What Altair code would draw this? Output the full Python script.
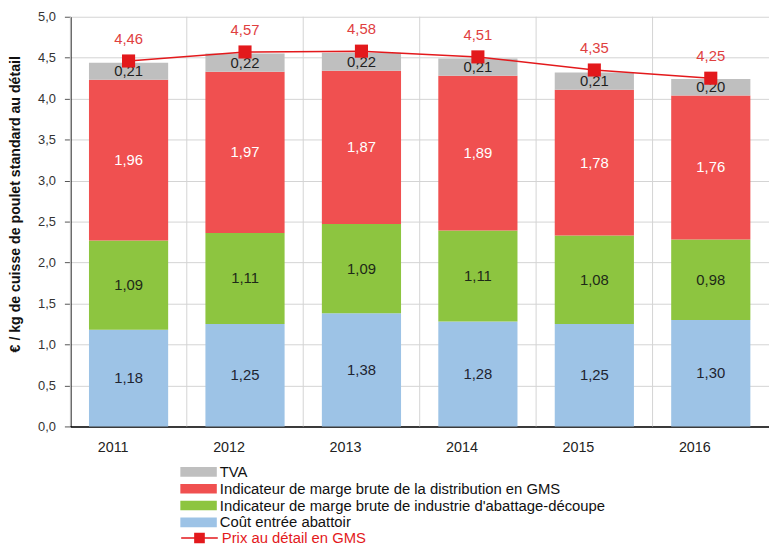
import altair as alt
import pandas as pd

years = ["2011", "2012", "2013", "2014", "2015", "2016"]
cout = [1.18, 1.25, 1.38, 1.28, 1.25, 1.30]
industrie = [1.09, 1.11, 1.09, 1.11, 1.08, 0.98]
distribution = [1.96, 1.97, 1.87, 1.89, 1.78, 1.76]
tva = [0.21, 0.22, 0.22, 0.21, 0.21, 0.20]
prix = [4.46, 4.57, 4.58, 4.51, 4.35, 4.25]

series = [
    "Coût entrée abattoir",
    "Indicateur de marge brute de industrie d'abattage-découpe",
    "Indicateur de marge brute de la distribution en GMS",
    "TVA",
]
colors = ["#9DC3E6", "#8DC540", "#F05050", "#BFBFBF"]
text_colors = ["#1e2430", "#1e2a18", "#ffffff", "#1f1f1f"]
legend_order = [series[3], series[2], series[1], series[0]]
price_name = "Prix au détail en GMS"
RED = "#E3191C"
FONT = "Liberation Sans"


def fr(v):
    return f"{v:.2f}".replace(".", ",")


rows = []
for i, yr in enumerate(years):
    for k, vals in enumerate([cout, industrie, distribution, tva]):
        rows.append(dict(year=yr, series=series[k], value=vals[i], order=k,
                         tcolor=text_colors[k], label=fr(vals[i])))
df = pd.DataFrame(rows)

price_df = pd.DataFrame(dict(year=years, prix=prix, name=price_name,
                             label=[fr(v) for v in prix]))
grid_df = pd.DataFrame(dict(year=years))

x_enc = alt.X("year:O", sort=years,
              scale=alt.Scale(paddingInner=0, paddingOuter=0),
              axis=alt.Axis(title=None, labelAngle=0, ticks=False, grid=False,
                            domainColor="#000000", domainWidth=1.5,
                            labelFontSize=14.5, labelColor="#222222",
                            labelPadding=21))

y_scale = alt.Scale(domain=[0, 5], nice=False)

base = alt.Chart(df).transform_stack(
    stack="value", groupby=["year"], as_=["y0", "y1"],
    sort=[alt.SortField("order", order="ascending")]
).transform_calculate(mid="(datum.y0 + datum.y1) / 2")

bars = base.mark_bar(width=alt.RelativeBandSize(0.68)).encode(
    x=x_enc,
    y=alt.Y("y0:Q", scale=y_scale,
            axis=alt.Axis(values=[0, 0.5, 1, 1.5, 2, 2.5, 3, 3.5, 4, 4.5, 5],
                          labelExpr="replace(format(datum.value, '.1f'), '.', ',')",
                          title="€ / kg de cuisse de poulet standard au détail",
                          titleFontSize=14.3, titleFontWeight="bold",
                          titleColor="#111111", titleX=-48, titleY=189,
                          grid=True, gridColor="#D3D3D3", gridWidth=1,
                          domainColor="#000000", domainWidth=1.5,
                          tickColor="#555555", tickSize=6,
                          labelFontSize=13, labelColor="#333333",
                          labelPadding=9)),
    y2="y1:Q",
    color=alt.Color("series:N",
                    scale=alt.Scale(domain=series, range=colors),
                    legend=alt.Legend(orient="none", legendX=111, legendY=451.6,
                                      title=None, values=legend_order,
                                      symbolType="M-1,-0.263H1V0.263H-1Z",
                                      symbolSize=1369, symbolStrokeWidth=0,
                                      symbolOpacity=1,
                                      clipHeight=16.7, rowPadding=0, padding=0,
                                      labelFontSize=15, labelColor="#111111",
                                      labelOffset=3, labelLimit=600)),
)

seg_text = base.mark_text(fontSize=15).encode(
    x=alt.X("year:O", sort=years),
    y=alt.Y("mid:Q", scale=y_scale),
    text="label:N",
    color=alt.Color("tcolor:N", scale=None),
)

vgrid = alt.Chart(grid_df).mark_rule(color="#D3D3D3", strokeWidth=1).encode(
    x=alt.X("year:O", sort=years, bandPosition=0),
    y=alt.datum(0),
    y2=alt.datum(5),
)

line = alt.Chart(price_df).mark_line(strokeWidth=1.5).encode(
    x=alt.X("year:O", sort=years),
    y=alt.Y("prix:Q", scale=y_scale),
    stroke=alt.Stroke("name:N",
                      scale=alt.Scale(domain=[price_name], range=[RED]),
                      legend=alt.Legend(orient="none", legendX=111, legendY=518.4,
                                        title=None,
                                        symbolType="M-1,0H1M-0.25,-0.25H0.25V0.25H-0.25Z",
                                        symbolSize=1369, symbolStrokeWidth=1.5,
                                        symbolFillColor=RED,
                                        clipHeight=16.7, rowPadding=0, padding=0,
                                        labelFontSize=15, labelColor=RED,
                                        labelOffset=3, labelLimit=600)),
)

squares = alt.Chart(price_df).mark_square(size=175, color=RED, opacity=1).encode(
    x=alt.X("year:O", sort=years),
    y=alt.Y("prix:Q", scale=y_scale),
)

price_text = alt.Chart(price_df).mark_text(dy=-22.5, fontSize=15, color="#E0403F").encode(
    x=alt.X("year:O", sort=years),
    y=alt.Y("prix:Q", scale=y_scale),
    text="label:N",
)

chart = alt.layer(vgrid, bars, seg_text, line, squares, price_text).properties(
    width=706,
    height=414,
    autosize=alt.AutoSizeParams(type="none"),
    padding={"left": 63, "top": 6, "right": 0, "bottom": 119},
).configure(font=FONT).configure_view(stroke=None)

chart.save("out.html", embed_options={"renderer": "svg", "actions": False})
